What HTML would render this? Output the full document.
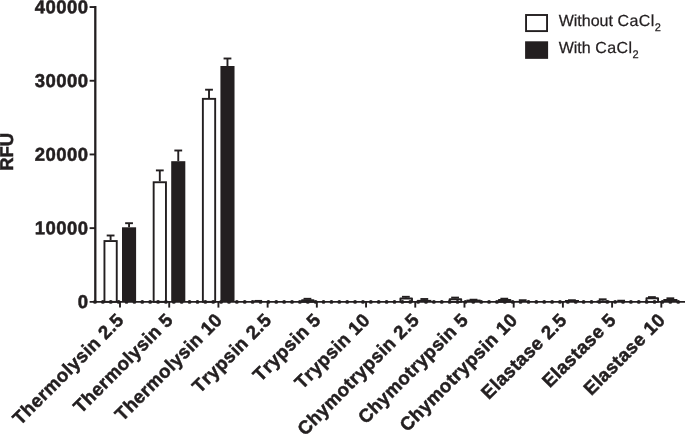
<!DOCTYPE html>
<html><head><meta charset="utf-8"><title>RFU chart</title>
<style>
html,body{margin:0;padding:0;background:#fff;}
body{width:685px;height:434px;overflow:hidden;}
svg{display:block;}
text{font-kerning:none;text-rendering:geometricPrecision;font-family:"Liberation Sans",sans-serif;fill:#231f20;}
.b{font-weight:bold;font-size:18.5px;letter-spacing:0.44px;stroke:#231f20;stroke-width:0.5px;}
.l{font-size:16px;font-kerning:normal;stroke:#231f20;stroke-width:0.25px;}
</style></head><body>
<svg width="685" height="434" viewBox="0 0 685 434">
<rect width="685" height="434" fill="#fff"/>

<line x1="110.60" y1="240.10" x2="110.60" y2="235.50" stroke="#231f20" stroke-width="1.9"/>
<line x1="106.70" y1="235.50" x2="114.50" y2="235.50" stroke="#231f20" stroke-width="1.9"/>
<rect x="104.45" y="241.05" width="12.30" height="60.80" fill="#fff" stroke="#231f20" stroke-width="1.9"/>
<line x1="129.05" y1="227.30" x2="129.05" y2="223.20" stroke="#231f20" stroke-width="1.9"/>
<line x1="125.15" y1="223.20" x2="132.95" y2="223.20" stroke="#231f20" stroke-width="1.9"/>
<rect x="122.00" y="227.30" width="14.10" height="74.55" fill="#231f20"/>
<line x1="159.81" y1="181.30" x2="159.81" y2="170.40" stroke="#231f20" stroke-width="1.9"/>
<line x1="155.91" y1="170.40" x2="163.71" y2="170.40" stroke="#231f20" stroke-width="1.9"/>
<rect x="153.66" y="182.25" width="12.30" height="119.60" fill="#fff" stroke="#231f20" stroke-width="1.9"/>
<line x1="178.26" y1="161.20" x2="178.26" y2="150.50" stroke="#231f20" stroke-width="1.9"/>
<line x1="174.36" y1="150.50" x2="182.16" y2="150.50" stroke="#231f20" stroke-width="1.9"/>
<rect x="171.21" y="161.20" width="14.10" height="140.65" fill="#231f20"/>
<line x1="209.02" y1="97.90" x2="209.02" y2="89.70" stroke="#231f20" stroke-width="1.9"/>
<line x1="205.12" y1="89.70" x2="212.92" y2="89.70" stroke="#231f20" stroke-width="1.9"/>
<rect x="202.87" y="98.85" width="12.30" height="203.00" fill="#fff" stroke="#231f20" stroke-width="1.9"/>
<line x1="227.47" y1="66.00" x2="227.47" y2="58.50" stroke="#231f20" stroke-width="1.9"/>
<line x1="223.57" y1="58.50" x2="231.37" y2="58.50" stroke="#231f20" stroke-width="1.9"/>
<rect x="220.42" y="66.00" width="14.10" height="235.85" fill="#231f20"/>
<line x1="254.33" y1="300.90" x2="262.13" y2="300.90" stroke="#231f20" stroke-width="1.9"/>
<line x1="307.44" y1="299.20" x2="307.44" y2="298.80" stroke="#231f20" stroke-width="1.9"/>
<line x1="303.54" y1="298.80" x2="311.34" y2="298.80" stroke="#231f20" stroke-width="1.9"/>
<rect x="301.99" y="300.15" width="11.60" height="1.70" fill="#fff" stroke="#231f20" stroke-width="1.9" stroke-linejoin="round"/>
<line x1="405.86" y1="297.50" x2="405.86" y2="296.80" stroke="#231f20" stroke-width="1.9"/>
<line x1="401.96" y1="296.80" x2="409.76" y2="296.80" stroke="#231f20" stroke-width="1.9"/>
<rect x="400.41" y="298.45" width="11.60" height="3.40" fill="#fff" stroke="#231f20" stroke-width="1.9" stroke-linejoin="round"/>
<line x1="424.31" y1="299.90" x2="424.31" y2="299.00" stroke="#231f20" stroke-width="1.9"/>
<line x1="420.41" y1="299.00" x2="428.21" y2="299.00" stroke="#231f20" stroke-width="1.9"/>
<rect x="417.26" y="299.90" width="14.10" height="1.95" fill="#231f20"/>
<line x1="455.07" y1="298.30" x2="455.07" y2="297.60" stroke="#231f20" stroke-width="1.9"/>
<line x1="451.17" y1="297.60" x2="458.97" y2="297.60" stroke="#231f20" stroke-width="1.9"/>
<rect x="449.62" y="299.25" width="11.60" height="2.60" fill="#fff" stroke="#231f20" stroke-width="1.9" stroke-linejoin="round"/>
<line x1="469.62" y1="299.70" x2="477.42" y2="299.70" stroke="#231f20" stroke-width="1.9"/>
<rect x="466.47" y="299.60" width="14.10" height="2.25" fill="#231f20"/>
<line x1="504.28" y1="299.00" x2="504.28" y2="298.70" stroke="#231f20" stroke-width="1.9"/>
<line x1="500.38" y1="298.70" x2="508.18" y2="298.70" stroke="#231f20" stroke-width="1.9"/>
<rect x="498.83" y="299.95" width="11.60" height="1.90" fill="#fff" stroke="#231f20" stroke-width="1.9" stroke-linejoin="round"/>
<line x1="522.73" y1="300.90" x2="522.73" y2="300.20" stroke="#231f20" stroke-width="1.9"/>
<line x1="518.83" y1="300.20" x2="526.63" y2="300.20" stroke="#231f20" stroke-width="1.9"/>
<rect x="515.68" y="300.90" width="14.10" height="0.95" fill="#231f20"/>
<line x1="568.04" y1="300.20" x2="575.84" y2="300.20" stroke="#231f20" stroke-width="1.9"/>
<rect x="564.89" y="300.00" width="14.10" height="1.85" fill="#231f20"/>
<line x1="602.70" y1="300.60" x2="602.70" y2="299.30" stroke="#231f20" stroke-width="1.9"/>
<line x1="598.80" y1="299.30" x2="606.60" y2="299.30" stroke="#231f20" stroke-width="1.9"/>
<rect x="597.25" y="301.55" width="11.60" height="0.30" fill="#fff" stroke="#231f20" stroke-width="1.9" stroke-linejoin="round"/>
<line x1="621.15" y1="301.00" x2="621.15" y2="300.70" stroke="#231f20" stroke-width="1.9"/>
<line x1="617.25" y1="300.70" x2="625.05" y2="300.70" stroke="#231f20" stroke-width="1.9"/>
<rect x="614.10" y="301.00" width="14.10" height="0.85" fill="#231f20"/>
<line x1="648.01" y1="297.10" x2="655.81" y2="297.10" stroke="#231f20" stroke-width="1.9"/>
<rect x="646.46" y="298.25" width="11.60" height="3.60" fill="#fff" stroke="#231f20" stroke-width="1.9" stroke-linejoin="round"/>
<line x1="670.36" y1="299.00" x2="670.36" y2="298.30" stroke="#231f20" stroke-width="1.9"/>
<line x1="666.46" y1="298.30" x2="674.26" y2="298.30" stroke="#231f20" stroke-width="1.9"/>
<rect x="663.31" y="299.00" width="14.10" height="2.85" fill="#231f20"/>
<line x1="95.3" y1="6.10" x2="95.3" y2="302.80" stroke="#231f20" stroke-width="2.3"/>
<line x1="89.6" y1="301.85" x2="685" y2="301.85" stroke="#231f20" stroke-width="1.9"/>
<line x1="95.0" y1="301.90" x2="686" y2="301.90" stroke="#231f20" stroke-width="3.8" stroke-linecap="round" stroke-dasharray="0.01 7.871"/>
<line x1="89.6" y1="228.15" x2="95.3" y2="228.15" stroke="#231f20" stroke-width="1.9"/>
<line x1="89.6" y1="154.45" x2="95.3" y2="154.45" stroke="#231f20" stroke-width="1.9"/>
<line x1="89.6" y1="80.75" x2="95.3" y2="80.75" stroke="#231f20" stroke-width="1.9"/>
<line x1="89.6" y1="7.05" x2="95.3" y2="7.05" stroke="#231f20" stroke-width="1.9"/>
<line x1="120.00" y1="301.85" x2="120.00" y2="307.6" stroke="#231f20" stroke-width="1.9"/>
<line x1="169.21" y1="301.85" x2="169.21" y2="307.6" stroke="#231f20" stroke-width="1.9"/>
<line x1="218.42" y1="301.85" x2="218.42" y2="307.6" stroke="#231f20" stroke-width="1.9"/>
<line x1="267.63" y1="301.85" x2="267.63" y2="307.6" stroke="#231f20" stroke-width="1.9"/>
<line x1="316.84" y1="301.85" x2="316.84" y2="307.6" stroke="#231f20" stroke-width="1.9"/>
<line x1="366.05" y1="301.85" x2="366.05" y2="307.6" stroke="#231f20" stroke-width="1.9"/>
<line x1="415.26" y1="301.85" x2="415.26" y2="307.6" stroke="#231f20" stroke-width="1.9"/>
<line x1="464.47" y1="301.85" x2="464.47" y2="307.6" stroke="#231f20" stroke-width="1.9"/>
<line x1="513.68" y1="301.85" x2="513.68" y2="307.6" stroke="#231f20" stroke-width="1.9"/>
<line x1="562.89" y1="301.85" x2="562.89" y2="307.6" stroke="#231f20" stroke-width="1.9"/>
<line x1="612.10" y1="301.85" x2="612.10" y2="307.6" stroke="#231f20" stroke-width="1.9"/>
<line x1="661.31" y1="301.85" x2="661.31" y2="307.6" stroke="#231f20" stroke-width="1.9"/>
<text class="b" transform="translate(88.5,308.10) rotate(0.05)" text-anchor="end">0</text>
<text class="b" transform="translate(88.5,234.40) rotate(0.05)" text-anchor="end">10000</text>
<text class="b" transform="translate(88.5,160.70) rotate(0.05)" text-anchor="end">20000</text>
<text class="b" transform="translate(88.5,87.00) rotate(0.05)" text-anchor="end">30000</text>
<text class="b" transform="translate(88.5,13.30) rotate(0.05)" text-anchor="end">40000</text>
<text class="b" style="font-size:18.5px;letter-spacing:-0.1px" transform="translate(13.3,170.8) rotate(-90)">RFU</text>
<text class="b" style="font-size:18.65px;letter-spacing:0.42px" transform="translate(125.00,321.10) rotate(-45)" text-anchor="end">Thermolysin 2.5</text>
<text class="b" style="font-size:18.65px;letter-spacing:0.42px" transform="translate(174.21,321.10) rotate(-45)" text-anchor="end">Thermolysin 5</text>
<text class="b" style="font-size:18.65px;letter-spacing:0.42px" transform="translate(223.42,321.10) rotate(-45)" text-anchor="end">Thermolysin 10</text>
<text class="b" style="font-size:18.65px;letter-spacing:0.42px" transform="translate(272.63,321.10) rotate(-45)" text-anchor="end">Trypsin 2.5</text>
<text class="b" style="font-size:18.65px;letter-spacing:0.42px" transform="translate(321.84,321.10) rotate(-45)" text-anchor="end">Trypsin 5</text>
<text class="b" style="font-size:18.65px;letter-spacing:0.42px" transform="translate(371.05,321.10) rotate(-45)" text-anchor="end">Trypsin 10</text>
<text class="b" style="font-size:18.65px;letter-spacing:0.42px" transform="translate(420.26,321.10) rotate(-45)" text-anchor="end">Chymotrypsin 2.5</text>
<text class="b" style="font-size:18.65px;letter-spacing:0.42px" transform="translate(469.47,321.10) rotate(-45)" text-anchor="end">Chymotrypsin 5</text>
<text class="b" style="font-size:18.65px;letter-spacing:0.42px" transform="translate(518.68,321.10) rotate(-45)" text-anchor="end">Chymotrypsin 10</text>
<text class="b" style="font-size:18.65px;letter-spacing:0.42px" transform="translate(567.89,321.10) rotate(-45)" text-anchor="end">Elastase 2.5</text>
<text class="b" style="font-size:18.65px;letter-spacing:0.42px" transform="translate(617.10,321.10) rotate(-45)" text-anchor="end">Elastase 5</text>
<text class="b" style="font-size:18.65px;letter-spacing:0.42px" transform="translate(666.31,321.10) rotate(-45)" text-anchor="end">Elastase 10</text>
<rect x="526.05" y="15.0" width="21.0" height="16.1" fill="#fff" stroke="#231f20" stroke-width="1.9"/>
<rect x="525.1" y="41.3" width="23.0" height="17.55" fill="#231f20"/>
<text class="l" x="558.7" y="26">Without <tspan letter-spacing="0.45">CaCl</tspan><tspan font-size="11" dy="4.6">2</tspan></text>
<text class="l" x="558.7" y="53">With <tspan letter-spacing="0.45">CaCl</tspan><tspan font-size="11" dy="4.6">2</tspan></text>
</svg></body></html>
